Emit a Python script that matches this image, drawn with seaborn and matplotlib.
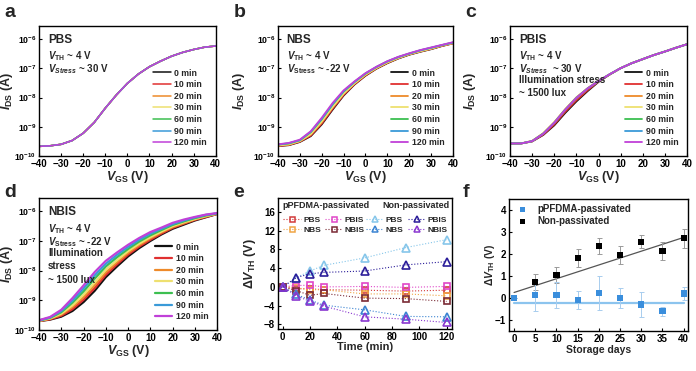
import numpy as np
import pandas as pd
import matplotlib
matplotlib.use("Agg")
import matplotlib.pyplot as plt
from matplotlib.lines import Line2D
import seaborn as sns

# ---------------- data ----------------
vgs = [-40, -35, -30, -25, -20, -15, -10, -5, 0, 5, 10, 15, 20, 25, 30, 35, 40]
times = ["0 min", "10 min", "20 min", "30 min", "60 min", "90 min", "120 min"]
time_colors = ["#111111", "#e03030", "#ee8a2a", "#eee070", "#3cbf50", "#3a9ad8", "#c040d8"]

# log10(I_DS) curves, panel a (PBS) - all overlap
a_base = [-9.67, -9.65, -9.60, -9.47, -9.22, -8.85, -8.36, -7.91, -7.51, -7.19, -6.94, -6.75, -6.58, -6.45, -6.35, -6.27, -6.23]
a_logI = [a_base] * 7

b_logI = [
    [-9.66, -9.63, -9.52, -9.32, -8.92, -8.41, -7.93, -7.55, -7.25, -7.01, -6.82, -6.66, -6.53, -6.43, -6.34, -6.23, -6.14],
    [-9.66, -9.62, -9.51, -9.30, -8.89, -8.38, -7.91, -7.54, -7.24, -7.00, -6.81, -6.65, -6.52, -6.42, -6.33, -6.23, -6.14],
    [-9.64, -9.61, -9.49, -9.26, -8.84, -8.33, -7.87, -7.51, -7.22, -6.99, -6.80, -6.64, -6.51, -6.41, -6.32, -6.22, -6.13],
    [-9.64, -9.60, -9.49, -9.25, -8.82, -8.32, -7.86, -7.51, -7.21, -6.98, -6.79, -6.64, -6.51, -6.41, -6.32, -6.21, -6.13],
    [-9.61, -9.57, -9.46, -9.18, -8.74, -8.23, -7.79, -7.46, -7.18, -6.95, -6.76, -6.61, -6.49, -6.38, -6.29, -6.20, -6.11],
    [-9.61, -9.56, -9.46, -9.17, -8.73, -8.22, -7.78, -7.46, -7.17, -6.95, -6.76, -6.61, -6.49, -6.38, -6.29, -6.20, -6.11],
    [-9.60, -9.55, -9.44, -9.15, -8.69, -8.18, -7.75, -7.44, -7.16, -6.94, -6.75, -6.60, -6.48, -6.37, -6.28, -6.19, -6.10],
]

c_logI = [
    [-9.57, -9.57, -9.50, -9.28, -8.95, -8.52, -8.13, -7.78, -7.46, -7.21, -6.99, -6.82, -6.68, -6.54, -6.42, -6.29, -6.17],
    [-9.57, -9.57, -9.50, -9.27, -8.92, -8.48, -8.09, -7.75, -7.45, -7.21, -6.99, -6.82, -6.68, -6.54, -6.42, -6.29, -6.17],
    [-9.57, -9.57, -9.48, -9.22, -8.84, -8.39, -7.99, -7.68, -7.42, -7.20, -6.99, -6.82, -6.68, -6.54, -6.42, -6.29, -6.17],
    [-9.57, -9.57, -9.49, -9.23, -8.85, -8.40, -8.00, -7.69, -7.43, -7.20, -6.99, -6.82, -6.68, -6.54, -6.42, -6.29, -6.17],
    [-9.57, -9.57, -9.49, -9.23, -8.86, -8.41, -8.01, -7.69, -7.43, -7.20, -6.99, -6.82, -6.68, -6.54, -6.42, -6.29, -6.17],
    [-9.57, -9.57, -9.49, -9.24, -8.86, -8.41, -8.01, -7.69, -7.43, -7.20, -6.99, -6.82, -6.68, -6.54, -6.42, -6.29, -6.17],
    [-9.57, -9.57, -9.49, -9.24, -8.86, -8.41, -8.01, -7.69, -7.43, -7.20, -6.99, -6.82, -6.68, -6.54, -6.42, -6.29, -6.17],
]

d_logI = [
    [-9.70, -9.65, -9.55, -9.36, -9.06, -8.68, -8.22, -7.86, -7.52, -7.24, -7.00, -6.78, -6.59, -6.45, -6.31, -6.20, -6.09],
    [-9.70, -9.64, -9.52, -9.30, -8.98, -8.59, -8.14, -7.79, -7.46, -7.19, -6.96, -6.75, -6.56, -6.42, -6.29, -6.19, -6.09],
    [-9.69, -9.62, -9.48, -9.23, -8.89, -8.49, -8.06, -7.72, -7.40, -7.14, -6.91, -6.71, -6.53, -6.40, -6.27, -6.17, -6.08],
    [-9.69, -9.61, -9.45, -9.17, -8.81, -8.40, -7.97, -7.65, -7.34, -7.09, -6.87, -6.68, -6.50, -6.37, -6.26, -6.16, -6.08],
    [-9.68, -9.59, -9.40, -9.08, -8.70, -8.27, -7.86, -7.55, -7.27, -7.02, -6.81, -6.63, -6.46, -6.34, -6.23, -6.14, -6.07],
    [-9.68, -9.58, -9.36, -9.01, -8.60, -8.16, -7.77, -7.47, -7.20, -6.96, -6.75, -6.59, -6.43, -6.31, -6.21, -6.12, -6.07],
    [-9.67, -9.56, -9.32, -8.93, -8.50, -8.05, -7.67, -7.39, -7.13, -6.90, -6.70, -6.55, -6.39, -6.28, -6.19, -6.11, -6.06],
]

# panel e: threshold shift vs time
e_time = [0, 10, 20, 30, 60, 90, 120]
e_p_pbs = [0, -0.4, -0.4, -0.6, -0.7, -0.9, -0.7]
e_p_pbis = [0, 0.3, 0.36, 0.0, 0.1, -0.1, 0.1]
e_p_nbs = [0, -0.2, -0.6, -0.6, -1.5, -1.5, -1.9]
e_p_nbis = [0, -0.8, -1.8, -1.4, -2.4, -2.5, -3.1]
e_n_pbs = [0, 2.0, 3.4, 4.6, 6.2, 8.4, 10.1]
e_n_pbis = [0, 2.0, 2.8, 3.1, 3.4, 4.7, 5.4]
e_n_nbs = [0, -1.6, -2.8, -3.9, -4.9, -6.3, -6.4]
e_n_nbis = [0, -1.9, -3.1, -4.1, -6.4, -6.9, -7.6]

# panel f: storage stability
f_days = [0, 5, 10, 15, 20, 25, 30, 35, 40]
f_pass = [0.0, 0.13, 0.14, -0.10, 0.21, -0.01, -0.30, -0.60, 0.20]
f_pass_err = [0.0, 0.70, 0.60, 0.40, 0.77, 0.45, 0.58, 0.20, 0.30]
f_non = [0.0, 0.72, 1.04, 1.81, 2.36, 1.94, 2.56, 2.13, 2.71]
f_non_err = [0.0, 0.37, 0.38, 0.40, 0.35, 0.40, 0.30, 0.40, 0.43]
f_non_fit = [0.0625, 0.25]   # slope, intercept
f_pass_fit = [0.0, -0.22]

# ---------------- style ----------------
sns.set_theme(style="ticks")
plt.rcParams["font.family"] = ["Liberation Sans", "DejaVu Sans"]
plt.rcParams["font.weight"] = "bold"
plt.rcParams["axes.labelweight"] = "bold"
plt.rcParams["mathtext.fontset"] = "custom"
plt.rcParams["mathtext.rm"] = "Liberation Sans:bold"
plt.rcParams["mathtext.it"] = "Liberation Sans:italic:bold"
plt.rcParams["mathtext.bf"] = "Liberation Sans:bold"
plt.rcParams["mathtext.default"] = "it"

fig = plt.figure(figsize=(6.96, 3.71), dpi=100)

pos = {
    "a": [0.056, 0.5795, 0.254, 0.350],
    "b": [0.3994, 0.5795, 0.2514, 0.350],
    "c": [0.7328, 0.5795, 0.2543, 0.350],
    "d": [0.056, 0.1105, 0.256, 0.356],
    "e": [0.3994, 0.1132, 0.250, 0.353],
    "f": [0.7313, 0.1078, 0.257, 0.356],
}
ylab_x = {"a": -0.136, "b": -0.177, "c": -0.18, "d": -0.135, "e": -0.115, "f": -0.067}


def style_ax(ax, key):
    for s in ax.spines.values():
        s.set_linewidth(1.0)
        s.set_color("black")
    ax.tick_params(direction="in", length=2.5, width=0.8, labelsize=7, pad=2,
                   colors="black")
    ax.tick_params(which="minor", length=0)
    for lab in ax.get_xticklabels() + ax.get_yticklabels():
        lab.set_fontweight("bold")
    ax.yaxis.set_label_coords(ylab_x[key], 0.5)


def transfer(ax, key, curves, texts, lw):
    for lbl, col, lg in zip(times, time_colors, curves):
        df = pd.DataFrame({"V": vgs, "I": np.power(10.0, lg)})
        sns.lineplot(data=df, x="V", y="I", ax=ax, color=col, lw=lw, label=lbl,
                     sort=False, estimator=None)
    ax.set_yscale("log")
    ax.set_ylim(1e-10, 10 ** -5.55)
    ax.set_xlim(-40, 40)
    ax.set_xticks(range(-40, 41, 10))
    ax.set_yticks([1e-10, 1e-9, 1e-8, 1e-7, 1e-6])
    ax.minorticks_off()
    ax.set_xlabel(r"$V_{\mathrm{GS}}$ (V)", fontsize=9, labelpad=0)
    ax.set_ylabel(r"$I_{\mathrm{DS}}$ (A)", fontsize=9)
    leg = ax.legend(loc="lower right", frameon=False, fontsize=6.3, handlelength=2.0,
                    handletextpad=0.4, labelspacing=0.3, borderaxespad=0.6)
    for t in leg.get_texts():
        t.set_fontweight("bold")
    y = 0.94
    for i, t in enumerate(texts):
        fs = 8.5 if i == 0 else 7
        ax.text(0.05, y, t, transform=ax.transAxes, fontsize=fs, fontweight="bold",
                va="top", ha="left")
        y -= 0.12 if i == 0 else 0.1
    style_ax(ax, key)
    ax.set_yticklabels([r"$\mathrm{10^{-10}}$", r"$\mathrm{10^{-9}}$", r"$\mathrm{10^{-8}}$",
                        r"$\mathrm{10^{-7}}$", r"$\mathrm{10^{-6}}$"], fontsize=6.3)


axes = {}
for k, p in pos.items():
    axes[k] = fig.add_axes(p)

transfer(axes["a"], "a", a_logI, ["PBS", r"$V_{\mathrm{TH}}$ ~ 4 V", r"$V_{Stress}$ ~ 30 V"], 1.1)
transfer(axes["b"], "b", b_logI, ["NBS", r"$V_{\mathrm{TH}}$ ~ 4 V", r"$V_{\mathrm{Stress}}$ ~ -22 V"], 1.3)
transfer(axes["c"], "c", c_logI, ["PBIS", r"$V_{\mathrm{TH}}$ ~ 4 V", r"$V_{Stress}$  ~ 30 V",
                                  "Illumination stress", "~ 1500 lux"], 1.3)
transfer(axes["d"], "d", d_logI, ["NBIS", r"$V_{\mathrm{TH}}$ ~ 4 V", r"$V_{\mathrm{Stress}}$ ~ -22 V",
                                  "Illumination", "stress", "~ 1500 lux"], 1.6)

# ---------------- panel e ----------------
ax = axes["e"]
e_series = [
    ("PBS", e_p_pbs, "#d23a3a", "s"),
    ("NBS", e_p_nbs, "#f0a545", "s"),
    ("PBIS", e_p_pbis, "#e046c8", "s"),
    ("NBIS", e_p_nbis, "#7a2a35", "s"),
    ("PBS", e_n_pbs, "#86c6ea", "^"),
    ("NBS", e_n_nbs, "#3c84d2", "^"),
    ("PBIS", e_n_pbis, "#2c1e9a", "^"),
    ("NBIS", e_n_nbis, "#8a38d0", "^"),
]
handles = []
for lbl, vals, col, mk in e_series:
    df = pd.DataFrame({"t": e_time, "dv": vals})
    sns.lineplot(data=df, x="t", y="dv", ax=ax, color=col, lw=0.8, linestyle=":",
                 marker=mk, markersize=5.2 if mk == "^" else 4.3, markerfacecolor="none",
                 markeredgecolor=col, markeredgewidth=1.2, estimator=None, sort=False)
    handles.append(Line2D([], [], color=col, lw=0.8, linestyle=":", marker=mk,
                          markersize=4.3 if mk == "^" else 3.6, markerfacecolor="none",
                          markeredgecolor=col, markeredgewidth=1.1, label=lbl))
ax.set_xlim(-3.5, 124)
ax.set_ylim(-9, 19)
ax.set_xticks(range(0, 121, 20))
ax.set_yticks(range(-8, 17, 4))
ax.set_xlabel("Time (min)", fontsize=8, labelpad=0)
ax.set_ylabel(r"$\Delta V_{\mathrm{TH}}$ (V)", fontsize=9)
leg_kw = dict(ncol=2, frameon=False, fontsize=6, handlelength=2.1, handletextpad=0.3,
              columnspacing=0.5, labelspacing=0.2, borderaxespad=0.0)
leg1 = ax.legend(handles=handles[:4], loc="upper left", bbox_to_anchor=(0.01, 0.885), **leg_kw)
for t in leg1.get_texts():
    t.set_fontweight("bold")
ax.add_artist(leg1)
leg2 = ax.legend(handles=handles[4:], loc="upper right", bbox_to_anchor=(0.995, 0.885), **leg_kw)
for t in leg2.get_texts():
    t.set_fontweight("bold")
ax.text(0.025, 0.975, "pPFDMA-passivated", transform=ax.transAxes, fontsize=6.5,
        fontweight="bold", va="top", ha="left")
ax.text(0.985, 0.975, "Non-passivated", transform=ax.transAxes, fontsize=6.5,
        fontweight="bold", va="top", ha="right")
style_ax(ax, "e")

# ---------------- panel f ----------------
ax = axes["f"]
fx = np.array(f_days, dtype=float)
ax.plot(fx, np.polyval(f_pass_fit, fx), color="#8cc4ee", lw=1.6, zorder=1)
ax.plot(fx, np.polyval(f_non_fit, fx), color="#555555", lw=0.9, zorder=1)
ax.errorbar(f_days, f_non, yerr=f_non_err, fmt="none", ecolor="#9a9a9a", elinewidth=0.7,
            capsize=1.8, capthick=0.7, zorder=2)
ax.errorbar(f_days, f_pass, yerr=f_pass_err, fmt="none", ecolor="#a8cdee", elinewidth=0.7,
            capsize=1.8, capthick=0.7, zorder=2)
dfn = pd.DataFrame({"d": f_days, "v": f_non})
dfp = pd.DataFrame({"d": f_days, "v": f_pass})
sns.scatterplot(data=dfn, x="d", y="v", ax=ax, color="black", marker="s", s=20,
                edgecolor="none", label="Non-passivated", zorder=3)
sns.scatterplot(data=dfp, x="d", y="v", ax=ax, color="#3a8edc", marker="s", s=20,
                edgecolor="none", label="pPFDMA-passivated", zorder=4)
ax.set_xlim(-1.2, 41)
ax.set_ylim(-1.5, 4.5)
ax.set_xticks(range(0, 41, 5))
ax.set_yticks(range(-1, 5))
ax.set_xlabel("Storage days", fontsize=7.5, labelpad=1)
ax.set_ylabel(r"$\Delta V_{\mathrm{TH}}$ (V)", fontsize=7.5)
h, l = ax.get_legend_handles_labels()
order = [l.index("pPFDMA-passivated"), l.index("Non-passivated")]
leg = ax.legend([h[i] for i in order], [l[i] for i in order], loc="upper left",
                bbox_to_anchor=(0.0, 0.99), frameon=False,
                fontsize=7, handlelength=2.0, handletextpad=0.5, labelspacing=0.2,
                borderaxespad=0.0, markerscale=0.9)
for t in leg.get_texts():
    t.set_fontweight("bold")
style_ax(ax, "f")

# panel letters
for k, (x, y) in {"a": (0.006, 0.99), "b": (0.336, 0.99), "c": (0.668, 0.99),
                  "d": (0.006, 0.505), "e": (0.335, 0.505), "f": (0.665, 0.505)}.items():
    fig.text(x, y, k, fontsize=14, fontweight="bold", va="top", ha="left")

fig.savefig("out.png", dpi=100, facecolor="white")
